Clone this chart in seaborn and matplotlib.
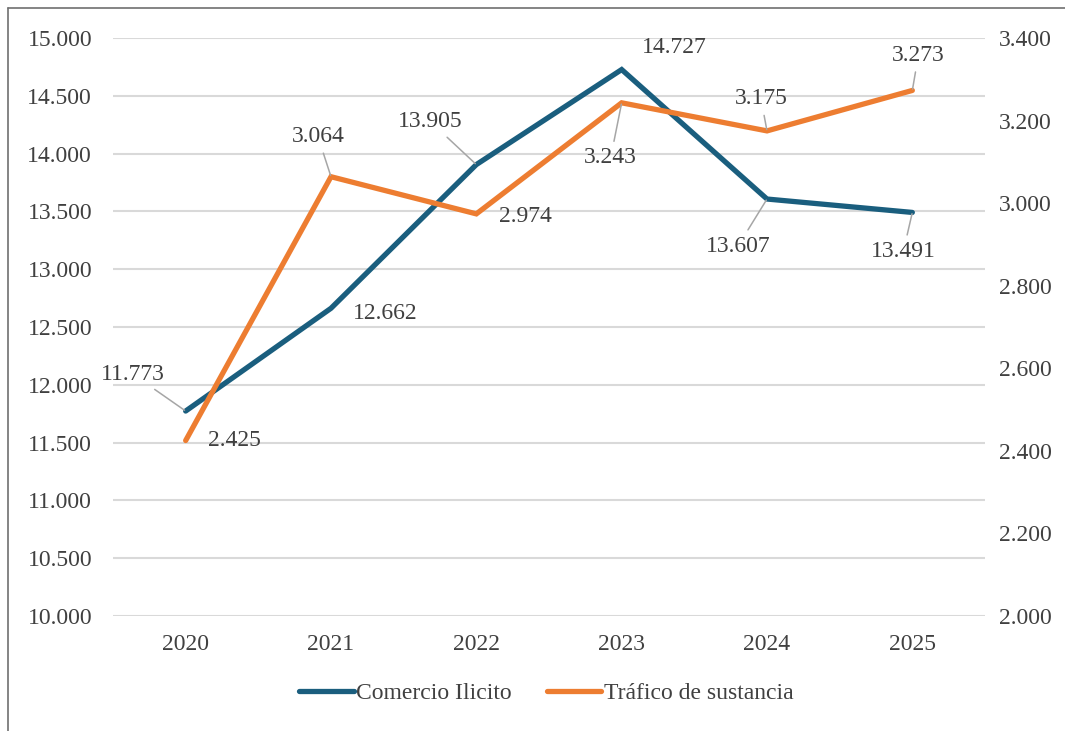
import matplotlib
matplotlib.use("Agg")
import matplotlib.pyplot as plt
import seaborn as sns
import pandas as pd
from matplotlib.lines import Line2D

years = ["2020", "2021", "2022", "2023", "2024", "2025"]
comercio = [11773, 12662, 13905, 14727, 13607, 13491]
trafico = [2425, 3064, 2974, 3243, 3175, 3273]
left_ticks = [10000, 10500, 11000, 11500, 12000, 12500, 13000, 13500, 14000, 14500, 15000]
right_ticks = [2000, 2200, 2400, 2600, 2800, 3000, 3200, 3400]
series_names = ["Comercio Ilicito", "Tráfico de sustancia"]

BLUE = "#1a5e7e"
ORANGE = "#ED7D31"
TXT = "#404040"
FONT = "Liberation Serif"

sns.set_theme(style="white")
plt.rcParams["font.family"] = [FONT, "DejaVu Serif"]

def fmt(v):
    return f"{v:,.0f}".replace(",", ".")

df = pd.DataFrame({"year": years, "comercio": comercio, "trafico": trafico})
df["x"] = range(len(years))

fig = plt.figure(figsize=(10.65, 7.31), dpi=100)
ax = fig.add_axes([113 / 1065, 1 - 616 / 731, (985 - 113) / 1065, (616 - 38) / 731])
ax2 = ax.twinx()

sns.lineplot(data=df, x="x", y="comercio", ax=ax, color=BLUE, lw=3.8, legend=False,
             solid_capstyle="round", solid_joinstyle="miter")
sns.lineplot(data=df, x="x", y="trafico", ax=ax2, color=ORANGE, lw=3.8, legend=False,
             solid_capstyle="round", solid_joinstyle="miter")

ax.set_xlim(-0.5, len(years) - 0.5)
ax.set_ylim(left_ticks[0], left_ticks[-1])
ax2.set_ylim(right_ticks[0], right_ticks[-1])
ax.set_yticks(left_ticks)
ax.set_yticklabels([fmt(v) for v in left_ticks])
ax2.set_yticks(right_ticks)
ax2.set_yticklabels([fmt(v) for v in right_ticks])
ax.set_xticks(range(len(years)))
ax.set_xticklabels(years)
ax.set_xlabel("")
ax.set_ylabel("")
ax2.set_ylabel("")

fs = 17
ax.tick_params(axis="y", length=0, pad=15, labelsize=fs, labelcolor=TXT)
ax.tick_params(axis="x", length=0, pad=13, labelsize=fs, labelcolor=TXT)
ax2.tick_params(axis="y", length=0, pad=10, labelsize=fs, labelcolor=TXT)

ax.grid(axis="y", color="#d9d9d9", lw=1.5)
ax.set_axisbelow(True)
ax.set_zorder(ax2.get_zorder() - 1)
ax.patch.set_visible(True)
ax2.patch.set_visible(False)
for a in (ax, ax2):
    for s in a.spines.values():
        s.set_visible(False)

# data labels: (dx, dy) in pixels, leader flag
blue_lab = [(-53, 37, True), (54, -5, False), (-46, 43, True), (53, 22, False), (-29, -47, True), (-9, -39, True)]
orange_lab = [(49, 0, False), (-13, 40, True), (49, -3, False), (-11, -55, True), (-6, 32, True), (6, 35, True)]

def label(a, xs, ys, offs):
    for x, y, (dx, dy, lead) in zip(xs, ys, offs):
        kw = {}
        if lead:
            kw["arrowprops"] = dict(arrowstyle="-", color="#a6a6a6", lw=1.1, shrinkA=2, shrinkB=1)
        a.annotate(fmt(y), xy=(x, y), xytext=(dx, dy), textcoords="offset pixels",
                   ha="center", va="center", fontsize=fs, color=TXT, **kw)

label(ax, df["x"], df["comercio"], blue_lab)
label(ax2, df["x"], df["trafico"], orange_lab)

handles = [Line2D([], [], color=BLUE, lw=3.8, solid_capstyle="round"),
           Line2D([], [], color=ORANGE, lw=3.8, solid_capstyle="round")]
leg = fig.legend(handles, series_names, loc="center", bbox_to_anchor=(0.513, 1 - 693 / 731),
                 ncol=2, frameon=False, fontsize=fs, handlelength=2.3, handletextpad=0.1,
                 columnspacing=1.5)
for t in leg.get_texts():
    t.set_color(TXT)

# outer border (left and top edges)
fig.add_artist(Line2D([8 / 1065, 8 / 1065], [0, 1 - 8 / 731], transform=fig.transFigure, color="#6f6f6f", lw=1.2))
fig.add_artist(Line2D([8 / 1065, 1], [1 - 8 / 731, 1 - 8 / 731], transform=fig.transFigure, color="#6f6f6f", lw=1.2))

fig.savefig("out.png", dpi=100)
